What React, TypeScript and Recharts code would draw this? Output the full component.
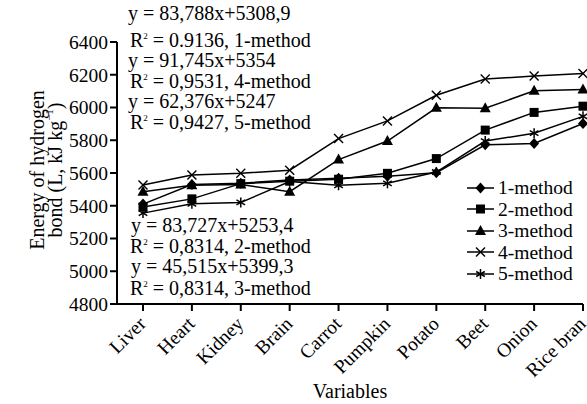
import {Legend, Line, LineChart, XAxis, YAxis} from "recharts";

const FONT = "Liberation Serif, Times New Roman, serif";
const FS = 19.5;

// categories on the x axis
const categories = ["Liver", "Heart", "Kidney", "Brain", "Carrot", "Pumpkin", "Potato", "Beet", "Onion", "Rice bran"];

// energy of hydrogen bond per method
const method1 = [5410, 5530, 5538, 5558, 5568, 5580, 5602, 5772, 5780, 5902];
const method2 = [5392, 5442, 5535, 5550, 5562, 5598, 5688, 5862, 5970, 6008];
const method3 = [5486, 5525, 5530, 5486, 5682, 5795, 5998, 5995, 6102, 6110];
const method4 = [5527, 5588, 5598, 5617, 5810, 5918, 6075, 6174, 6192, 6208];
const method5 = [5355, 5412, 5420, 5548, 5525, 5537, 5606, 5795, 5843, 5946];

const yTicks = [4800, 5000, 5200, 5400, 5600, 5800, 6000, 6200, 6400];

const seriesNames = ["1-method", "2-method", "3-method", "4-method", "5-method"];
const seriesKeys = ["m1", "m2", "m3", "m4", "m5"];
const markers = ["diamond", "square", "triangle", "cross", "star"];

const data = categories.map((name, i) => ({
  name,
  m1: method1[i],
  m2: method2[i],
  m3: method3[i],
  m4: method4[i],
  m5: method5[i],
}));

// draws one marker shape centred on (cx, cy)
function Marker({kind, cx, cy}: {kind: string; cx: number; cy: number}) {
  if (kind === "diamond") {
    return <polygon points={`${cx},${cy - 5.5} ${cx + 5},${cy} ${cx},${cy + 5.5} ${cx - 5},${cy}`} fill="#000"/>;
  }
  if (kind === "square") {
    return <rect x={cx - 4.5} y={cy - 4.5} width={9} height={9} fill="#000"/>;
  }
  if (kind === "triangle") {
    return <polygon points={`${cx},${cy - 6} ${cx + 5.5},${cy + 4} ${cx - 5.5},${cy + 4}`} fill="#000"/>;
  }
  if (kind === "cross") {
    return (
      <g stroke="#000" strokeWidth={1.4}>
        <line x1={cx - 4.5} y1={cy - 4.5} x2={cx + 4.5} y2={cy + 4.5}/>
        <line x1={cx - 4.5} y1={cy + 4.5} x2={cx + 4.5} y2={cy - 4.5}/>
      </g>
    );
  }
  // asterisk
  return (
    <g stroke="#000" strokeWidth={1.5}>
      <line x1={cx} y1={cy - 5} x2={cx} y2={cy + 5}/>
      <line x1={cx - 4.3} y1={cy - 2.5} x2={cx + 4.3} y2={cy + 2.5}/>
      <line x1={cx - 4.3} y1={cy + 2.5} x2={cx + 4.3} y2={cy - 2.5}/>
    </g>
  );
}

const makeDot = (kind: string) => (props: any) => {
  const {cx, cy, index} = props;
  return <Marker key={`${kind}-${index}`} kind={kind} cx={cx} cy={cy}/>;
};

const XTick = (props: any) => {
  const {x, y, payload} = props;
  const px = x + 4;
  const py = y + 12;
  return (
    <text x={px} y={py} transform={`rotate(-45, ${px}, ${py})`} textAnchor="end"
          fontSize={FS} fontFamily={FONT} fill="#000">
      {payload.value}
    </text>
  );
};

const renderLegend = () => (
  <div style={{fontFamily: FONT, fontSize: FS, color: "#000", lineHeight: 1}}>
    {seriesNames.map((name, i) => (
      <div key={name} style={{display: "flex", alignItems: "center", height: 21.5}}>
        <svg width={30} height={14}>
          <line x1={1} y1={7} x2={28} y2={7} stroke="#000" strokeWidth={1.5}/>
          <Marker kind={markers[i]} cx={14.5} cy={7}/>
        </svg>
        <span style={{marginLeft: 2}}>{name}</span>
      </div>
    ))}
  </div>
);

const textStyle = {fontFamily: FONT, fontSize: 20, fill: "#000"};

export default function App() {
  return (
    <div style={{position: "absolute", left: 0, top: 0, width: 587, height: 404, background: "#fff"}}>
      <LineChart width={587} height={404} data={data} margin={{top: 42, right: 4, left: 0, bottom: 0}}>
        <XAxis
          dataKey="name"
          interval={0}
          height={100}
          padding={{left: 26, right: 0}}
          tick={<XTick/>}
          tickSize={7}
          axisLine={{stroke: "#000", strokeWidth: 2}}
          tickLine={{stroke: "#000", strokeWidth: 2}}
        />
        <YAxis
          width={117}
          domain={[4800, 6400]}
          ticks={yTicks}
          interval={0}
          tickSize={7}
          tickMargin={2}
          tick={{fill: "#000", fontSize: FS, fontFamily: FONT}}
          axisLine={{stroke: "#000", strokeWidth: 2}}
          tickLine={{stroke: "#000", strokeWidth: 2}}
        />
        {seriesKeys.map((key, i) => (
          <Line
            key={key}
            dataKey={key}
            name={seriesNames[i]}
            type="linear"
            stroke="#000"
            strokeWidth={1.5}
            dot={makeDot(markers[i])}
            activeDot={false}
            isAnimationActive={false}
          />
        ))}
        <Legend
          layout="vertical"
          align="center"
          verticalAlign="middle"
          content={renderLegend}
          wrapperStyle={{position: "absolute", left: 466, top: 177, width: 121}}
        />
      </LineChart>
      <svg width={587} height={404} style={{position: "absolute", left: 0, top: 0, pointerEvents: "none"}}>
        {/* regression annotations */}
        <text x={128} y={20} {...textStyle}>y = 83,788x+5308,9</text>
        <text x={130} y={47} {...textStyle}>R<tspan fontSize={9} dy={-8}>2</tspan><tspan dy={8}> = 0.9136, 1-method</tspan></text>
        <text x={128} y={67} {...textStyle}>y = 91,745x+5354</text>
        <text x={130} y={88} {...textStyle}>R<tspan fontSize={9} dy={-8}>2</tspan><tspan dy={8}> = 0,9531, 4-method</tspan></text>
        <text x={128} y={108} {...textStyle}>y = 62,376x+5247</text>
        <text x={130} y={129} {...textStyle}>R<tspan fontSize={9} dy={-8}>2</tspan><tspan dy={8}> = 0,9427, 5-method</tspan></text>
        <text x={131} y={232} {...textStyle}>y = 83,727x+5253,4</text>
        <text x={130} y={253} {...textStyle}>R<tspan fontSize={9} dy={-8}>2</tspan><tspan dy={8}> = 0,8314, 2-method</tspan></text>
        <text x={131} y={273} {...textStyle}>y = 45,515x+5399,3</text>
        <text x={130} y={295} {...textStyle}>R<tspan fontSize={9} dy={-8}>2</tspan><tspan dy={8}> = 0,8314, 3-method</tspan></text>
        {/* axis titles */}
        <text transform="translate(44, 170) rotate(-90)" textAnchor="middle" {...textStyle}>Energy of hydrogen</text>
        <text transform="translate(62, 170) rotate(-90)" textAnchor="middle" {...textStyle}>
          bond (L, kJ kg<tspan fontSize={11} dy={-9}>−1</tspan><tspan dy={9}>)</tspan>
        </text>
        <text x={350} y={398} textAnchor="middle" {...textStyle}>Variables</text>
      </svg>
    </div>
  );
}
